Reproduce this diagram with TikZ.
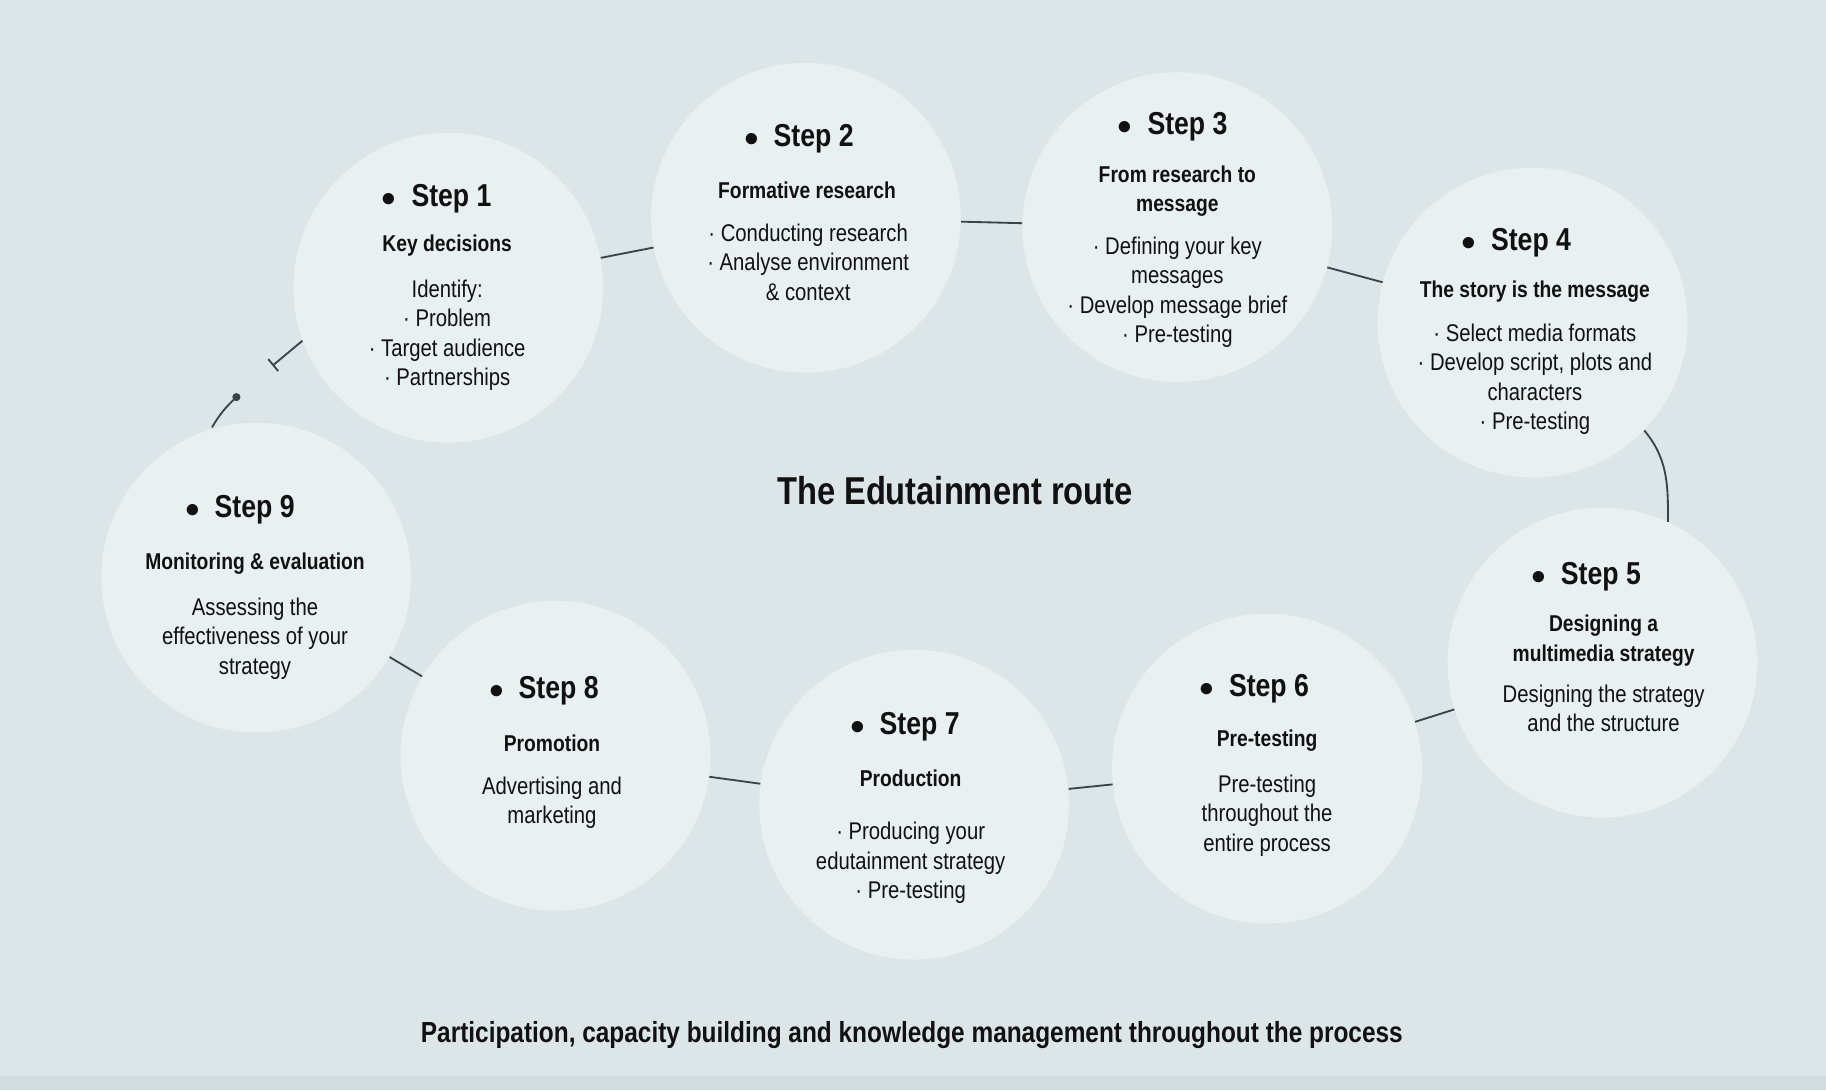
\documentclass[tikz,border=0pt]{standalone}
\usepackage{fontspec}
\setmainfont{Liberation Sans}[FakeStretch=0.84]
\begin{document}
\begin{tikzpicture}[x=0.02cm,y=-0.02cm,
  circ/.style={circle,fill=circfill,minimum size=5.32cm,inner sep=0},
  hd/.style={font=\fontsize{15.5}{17}\selectfont\bfseries,text=ink},
  sub/.style={font=\fontsize{11.2}{14.4}\selectfont\bfseries,text=ink,align=center},
  bd/.style={font=\fontsize{11.8}{14.4}\selectfont,text=ink,align=center},
  con/.style={draw=linec,line width=0.9pt}]
\definecolor{bgc}{HTML}{DCE6E8}
\definecolor{circfill}{HTML}{E8F0F2}
\definecolor{ink}{HTML}{111111}
\definecolor{linec}{HTML}{3A4446}
\fill[bgc] (0,0) rectangle (1568,936);
\fill[bgc!96!black] (0,924) rectangle (1568,936);
\useasboundingbox (0,0) rectangle (1568,936);
\node[circ] (s1) at (385,247) {};
\node[circ] (s2) at (692,187) {};
\node[circ] (s3) at (1011,195) {};
\node[circ] (s4) at (1316,277) {};
\node[circ] (s5) at (1376,569) {};
\node[circ] (s6) at (1088,660) {};
\node[circ] (s7) at (785,691) {};
\node[circ] (s8) at (477,649) {};
\node[circ] (s9) at (220,496) {};
\draw[con] (s1) -- (s2);
\draw[con] (s2) -- (s3);
\draw[con] (s3) -- (s4);
\draw[con] (s4.-44) to[out=-50,in=90] (s5.65);
\draw[con] (s5) -- (s6);
\draw[con] (s6) -- (s7);
\draw[con] (s7) -- (s8);
\draw[con] (s8) -- (s9);
\coordinate (a1) at (182,367); \coordinate (a2) at (203,341);
\coordinate (b1) at (234,314);
\draw[con] (a1) to[bend left=8] (a2);
\fill[linec] (a2) circle (3.5);
\draw[con,-|] (s1.200) -- (b1);
% texts
\node[hd] (h1) at (375,171) {$\bullet$\ \ Step 1};
\node[sub] (t1) at (384,211) {Key decisions};
\node[bd,anchor=north] (b1t) at (384,234) {Identify:\\ · Problem\\ · Target audience\\ · Partnerships};
\node[hd] (h2) at (686,119) {$\bullet$\ \ Step 2};
\node[sub] (t2) at (693,163) {Formative research};
\node[bd,anchor=north] (b2t) at (694,186) {· Conducting research\\ · Analyse environment\\ \& context};
\node[hd] (h3) at (1007,109) {$\bullet$\ \ Step 3};
\node[sub,anchor=north] (t3) at (1011,136) {From research to\\ message};
\node[bd,anchor=north] (b3t) at (1011,197) {· Defining your key\\ messages\\ · Develop message brief\\ · Pre-testing};
\node[hd] (h4) at (1302,208) {$\bullet$\ \ Step 4};
\node[sub] (t4) at (1318,250) {The story is the message};
\node[bd,anchor=north] (b4t) at (1318,272) {· Select media formats\\ · Develop script, plots and\\ characters\\ · Pre-testing};
\node[hd] (h5) at (1362,495) {$\bullet$\ \ Step 5};
\node[sub,anchor=north] (t5) at (1377,522) {Designing a\\ multimedia strategy};
\node[bd,anchor=north] (b5t) at (1377,582) {Designing the strategy\\ and the structure};
\node[hd] (h6) at (1077,591) {$\bullet$\ \ Step 6};
\node[sub] (t6) at (1088,636) {Pre-testing};
\node[bd,anchor=north] (b6t) at (1088,659) {Pre-testing\\ throughout the\\ entire process};
\node[hd] (h7) at (777,624) {$\bullet$\ \ Step 7};
\node[sub] (t7) at (782,668) {Production};
\node[bd,anchor=north] (b7t) at (782,700) {· Producing your\\ edutainment strategy\\ · Pre-testing};
\node[hd] (h8) at (467,593) {$\bullet$\ \ Step 8};
\node[sub] (t8) at (474,638) {Promotion};
\node[bd,anchor=north] (b8t) at (474,661) {Advertising and\\ marketing};
\node[hd] (h9) at (206,438) {$\bullet$\ \ Step 9};
\node[sub] (t9) at (219,484) {Monitoring \& evaluation};
\node[bd,anchor=north] (b9t) at (219,507) {Assessing the\\ effectiveness of your\\ strategy};
\node[font=\fontsize{19}{22}\selectfont\bfseries,text=ink] (title) at (820,421) {The Edutainment route};
\node[font=\fontsize{14.2}{16}\selectfont\bfseries,text=ink] (foot) at (783,889) {Participation, capacity building and knowledge management throughout the process};
\end{tikzpicture}
\end{document}
